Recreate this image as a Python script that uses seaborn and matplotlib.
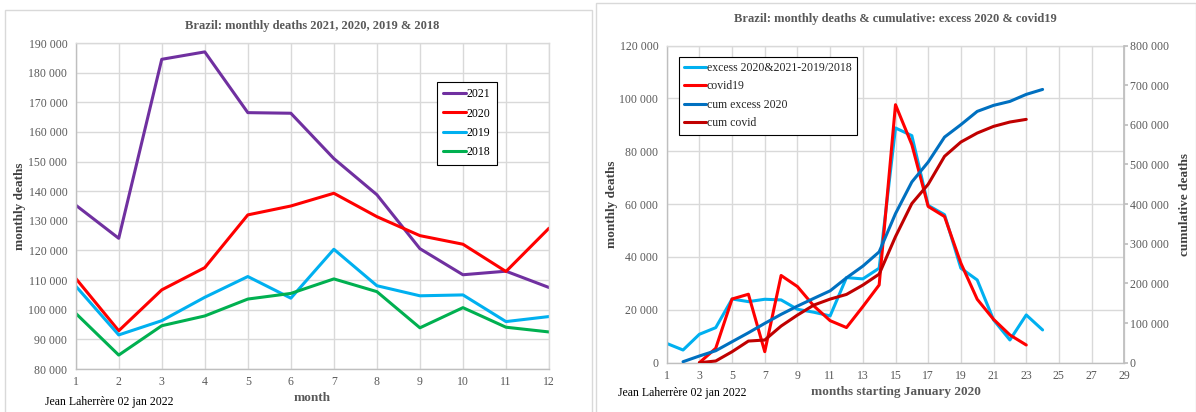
import numpy as np
import pandas as pd
import matplotlib
matplotlib.use('Agg')
import matplotlib.pyplot as plt
import seaborn as sns
from matplotlib.ticker import FuncFormatter, MultipleLocator
from matplotlib.patches import Rectangle

# left chart: monthly deaths by year
months = list(range(1, 13))
deaths_2021 = [135300, 124100, 184500, 187000, 166500, 166300, 151000, 138800, 120600, 111800, 113000, 107500]
deaths_2020 = [110600, 92900, 106700, 114200, 132000, 135000, 139300, 131400, 125000, 122100, 112900, 127500]
deaths_2019 = [108000, 91500, 96300, 104200, 111200, 103900, 120400, 108100, 104700, 105000, 96000, 97700]
deaths_2018 = [98800, 84700, 94600, 97900, 103600, 105500, 110400, 106100, 93900, 100700, 94100, 92500]

# right chart: months starting January 2020
m_excess = list(range(1, 25))
excess = [7300, 4800, 10750, 13260, 24100, 23100, 24000, 23750, 20200, 19100, 17700, 32200,
          31700, 35750, 88800, 85900, 59500, 56000, 35750, 31300, 16200, 8600, 18070, 12400]
m_covid = list(range(3, 24))
covid = [0, 5450, 24100, 25900, 4170, 33000, 28800, 21500, 15900, 13300, 21200, 29400,
         97600, 82500, 59100, 55300, 37650, 24000, 16400, 10500, 6700]
m_cum_excess = list(range(2, 25))
cum_excess = [2500, 16900, 30200, 52900, 75500, 99200, 121900, 142800, 162200, 181300, 214000, 243500,
              279500, 376000, 455800, 506000, 569000, 600300, 633800, 649000, 659000, 676700, 689200]
m_cum_covid = list(range(3, 24))
cum_covid = [0, 4300, 27700, 54600, 57200, 92400, 120100, 145300, 160400, 172200, 195700, 223400,
             318000, 401400, 450000, 520500, 556500, 579200, 596000, 607000, 613700]

sns.set_theme(style='whitegrid')
plt.rcParams['font.family'] = ['Liberation Serif', 'DejaVu Serif']

gray_txt = '#595959'
grid_c = '#D9D9D9'
axis_c = '#BFBFBF'
lw = 2.2

fmt = FuncFormatter(lambda v, p: '{:,.0f}'.format(v).replace(',', ' '))

W, H = 1196, 412
fig = plt.figure(figsize=(W / 100, H / 100), dpi=100)
fig.patch.set_facecolor('white')

# panel borders
fig.patches.append(Rectangle((5 / W, -0.01), 587 / W, 1 - 10 / H + 0.01, transform=fig.transFigure,
                             fill=False, edgecolor=grid_c, lw=1))
fig.patches.append(Rectangle((596 / W, -0.01), 600 / W, 1 - 3 / H + 0.01, transform=fig.transFigure,
                             fill=False, edgecolor=grid_c, lw=1))


def style_ax(ax):
    ax.set_facecolor('white')
    ax.grid(True, color=grid_c, lw=1)
    for s in ax.spines.values():
        s.set_color(grid_c)
        s.set_linewidth(1)
    ax.spines['left'].set_color(axis_c)
    ax.spines['bottom'].set_color(axis_c)
    ax.tick_params(axis='both', length=0, labelsize=8.5, labelcolor=gray_txt)
    ax.tick_params(axis='y', pad=6)
    ax.tick_params(axis='x', pad=5)


# ---- left chart
ax1 = fig.add_axes([75.7 / W, 1 - 369 / H, (549 - 75.7) / W, (369 - 43) / H])
style_ax(ax1)
df1 = pd.DataFrame({'month': months, '2021': deaths_2021, '2020': deaths_2020,
                    '2019': deaths_2019, '2018': deaths_2018})
cols1 = {'2021': '#7030A0', '2020': '#FF0000', '2019': '#00B0F0', '2018': '#00B050'}
for yr, c in cols1.items():
    sns.lineplot(data=df1, x='month', y=yr, ax=ax1, color=c, lw=lw, label=yr)
ax1.set_xlim(1, 12)
ax1.set_ylim(80000, 190000)
ax1.xaxis.set_major_locator(MultipleLocator(1))
ax1.yaxis.set_major_locator(MultipleLocator(10000))
ax1.yaxis.set_major_formatter(fmt)
ax1.set_xlabel('month', fontsize=9.5, fontweight='bold', color=gray_txt, labelpad=3)
ax1.set_ylabel('monthly deaths', fontsize=9.5, fontweight='bold', color='#404040', labelpad=2)
ax1.set_title('Brazil: monthly deaths 2021, 2020, 2019 & 2018', fontsize=9, fontweight='bold',
              color=gray_txt, pad=10)
leg1 = ax1.legend(loc='upper left', bbox_to_anchor=(0.763, 0.881), borderaxespad=0, fontsize=8.5,
                  frameon=True, fancybox=False, edgecolor='black', framealpha=1,
                  handlelength=1.9, handletextpad=0.05, labelspacing=0.62, borderpad=0.55)
leg1.get_frame().set_linewidth(0.8)
for t in leg1.get_texts():
    t.set_color('black')

# ---- right chart
ax2 = fig.add_axes([666.7 / W, 1 - 362.7 / H, (1124.3 - 666.7) / W, (362.7 - 45.5) / H])
style_ax(ax2)
ax3 = ax2.twinx()
df_ex = pd.DataFrame({'m': m_excess, 'v': excess})
df_cv = pd.DataFrame({'m': m_covid, 'v': covid})
df_ce = pd.DataFrame({'m': m_cum_excess, 'v': cum_excess})
df_cc = pd.DataFrame({'m': m_cum_covid, 'v': cum_covid})
sns.lineplot(data=df_ex, x='m', y='v', ax=ax2, color='#00B0F0', lw=lw, label='excess 2020&2021-2019/2018')
sns.lineplot(data=df_cv, x='m', y='v', ax=ax2, color='#FF0000', lw=lw, label='covid19')
sns.lineplot(data=df_ce, x='m', y='v', ax=ax3, color='#0070C0', lw=lw, label='cum excess 2020')
sns.lineplot(data=df_cc, x='m', y='v', ax=ax3, color='#C00000', lw=lw, label='cum covid')
ax2.set_xlim(1, 29)
ax2.set_ylim(0, 120000)
ax3.set_ylim(0, 800000)
ax2.set_xticks(list(range(1, 30, 2)))
ax2.yaxis.set_major_locator(MultipleLocator(20000))
ax2.yaxis.set_major_formatter(fmt)
ax3.yaxis.set_major_locator(MultipleLocator(100000))
ax3.yaxis.set_major_formatter(fmt)
ax3.grid(False)
for s in ax3.spines.values():
    s.set_visible(False)
ax3.spines['right'].set_visible(True)
ax3.spines['right'].set_color(axis_c)
ax3.tick_params(axis='y', length=3, color=axis_c, pad=1, labelsize=8.5, labelcolor=gray_txt)
ax2.set_xlabel('months starting January 2020', fontsize=9.5, fontweight='bold', color=gray_txt, labelpad=3)
ax2.set_ylabel('monthly deaths', fontsize=9.5, fontweight='bold', color='#404040', labelpad=1)
ax3.set_ylabel('cumulative deaths', fontsize=9.5, fontweight='bold', color='#404040', labelpad=7)
ax2.set_title('Brazil: monthly deaths & cumulative: excess 2020 & covid19', fontsize=9,
              fontweight='bold', color=gray_txt, pad=17)
h2, l2 = ax2.get_legend_handles_labels()
h3, l3 = ax3.get_legend_handles_labels()
ax2.get_legend().remove()
leg2 = ax3.legend(h2 + h3, l2 + l3, loc='upper left', bbox_to_anchor=(0.026, 0.965), borderaxespad=0,
                  fontsize=8.5, frameon=True, fancybox=False, edgecolor='black', framealpha=1,
                  handlelength=1.9, handletextpad=0.05, labelspacing=0.55, borderpad=0.45)
leg2.get_frame().set_linewidth(0.8)

fig.text(45 / W, 1 - 402 / H, 'Jean Laherrère 02 jan 2022', fontsize=8.5, color='black', va='center')
fig.text(618 / W, 1 - 393 / H, 'Jean Laherrère 02 jan 2022', fontsize=8.5, color='black', va='center')

fig.savefig('out.png', dpi=100)
